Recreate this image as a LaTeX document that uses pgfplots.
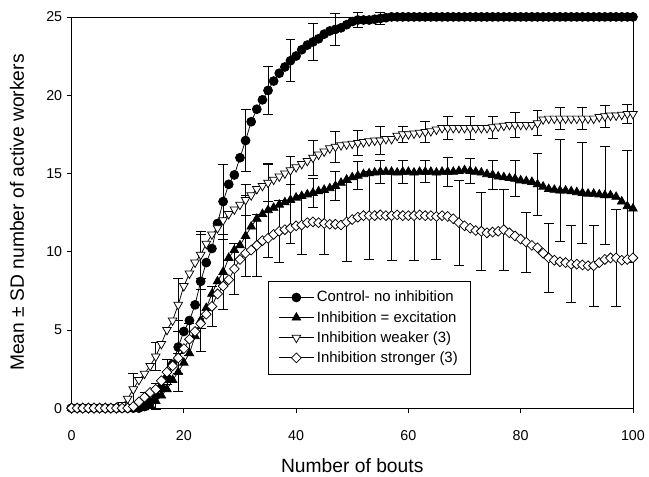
\documentclass[border=0pt]{standalone}
\usepackage{fontspec}
\setmainfont{Liberation Sans}
\usepackage{pgfplots}
\usepackage{pgfplotstable}
\pgfplotsset{compat=1.18}

% mean number of active workers per bout: c control, t inhibition=excitation,
% w inhibition weaker, d inhibition stronger
\pgfplotstableread{
x c t w d
0 0 0 0 0
1 0 0 0 0
2 0 0 0 0
3 0 0 0 0
4 0 0 0 0
5 0 0 0 0
6 0 0 0 0
7 0 0 0 0
8 0 0 0 0
9 0 0 0.2 0
10 0 0 0.6 0
11 0 0 1.2 0.1
12 0 0 1.8 0.4
13 0.1 0.05 2.2 0.7
14 0.4 0.2 2.7 1.0
15 0.8 0.45 3.3 1.2
16 1.3 0.8 4.1 1.75
17 1.9 1.2 5.0 2.3
18 2.8 1.8 5.6 2.7
19 3.9 2.3 6.6 3.2
20 4.9 2.9 7.8 3.8
21 5.6 3.5 8.6 4.4
22 6.6 4.6 9.3 4.9
23 8.1 5.6 9.8 5.4
24 9.3 6.4 10.5 6.0
25 10.2 7.3 11.1 6.5
26 11.8 8.1 11.5 7.3
27 13.2 8.7 12.0 7.8
28 14.3 9.6 12.4 8.2
29 14.9 10.1 12.7 8.9
30 16.0 10.4 13.0 9.5
31 17.1 11.0 13.3 9.9
32 18.3 11.6 13.6 10.1
33 19.1 12.1 14.0 10.4
34 19.7 12.4 14.2 10.7
35 20.3 12.65 14.4 10.85
36 20.9 12.8 14.6 11.1
37 21.4 13.0 14.8 11.3
38 21.8 13.15 15.0 11.4
39 22.2 13.3 15.2 11.5
40 22.5 13.45 15.4 11.65
41 22.9 13.55 15.6 11.7
42 23.2 13.65 15.8 11.85
43 23.4 13.75 16.0 11.9
44 23.6 13.85 16.2 11.85
45 23.9 13.95 16.4 11.8
46 24.1 14.05 16.6 11.75
47 24.2 14.2 16.7 11.75
48 24.3 14.4 16.8 11.7
49 24.5 14.6 16.85 11.9
50 24.7 14.75 16.9 12.05
51 24.8 14.85 16.95 12.2
52 24.8 14.95 17.0 12.3
53 24.8 15.0 17.05 12.3
54 24.85 15.05 17.1 12.3
55 24.9 15.1 17.1 12.35
56 24.95 15.1 17.2 12.3
57 25 15.1 17.2 12.3
58 25 15.05 17.4 12.35
59 25 15.1 17.5 12.3
60 25 15.1 17.5 12.3
61 25 15.05 17.55 12.3
62 25 15.1 17.6 12.35
63 25 15.1 17.65 12.3
64 25 15.1 17.7 12.3
65 25 15.05 17.8 12.25
66 25 15.1 17.9 12.3
67 25 15.1 17.9 12.25
68 25 15.1 17.9 12.1
69 25 15.15 17.9 11.85
70 25 15.2 17.9 11.65
71 25 15.15 17.9 11.5
72 25 15.1 17.9 11.35
73 25 15.05 17.9 11.3
74 25 14.95 17.9 11.2
75 25 14.9 17.95 11.25
76 25 14.8 18.0 11.3
77 25 14.75 18.05 11.4
78 25 14.7 18.1 11.2
79 25 14.65 18.1 11.0
80 25 14.55 18.1 10.8
81 25 14.5 18.1 10.6
82 25 14.45 18.1 10.4
83 25 14.3 18.2 10.25
84 25 14.15 18.45 9.9
85 25 14.0 18.5 9.6
86 25 13.95 18.5 9.45
87 25 13.9 18.5 9.35
88 25 13.9 18.5 9.3
89 25 13.85 18.5 9.2
90 25 13.8 18.5 9.2
91 25 13.75 18.5 9.15
92 25 13.7 18.5 9.1
93 25 13.7 18.5 9.1
94 25 13.65 18.6 9.3
95 25 13.6 18.65 9.5
96 25 13.6 18.7 9.6
97 25 13.5 18.7 9.6
98 25 13.2 18.75 9.45
99 25 12.9 18.8 9.5
100 25 12.75 18.8 9.6
}\bouts

% SD, drawn every 4th bout
\pgfplotstableread{
x y e
15 0.8 0.8
19 3.9 1.7
23 8.1 3.0
27 13.2 2.4
31 17.1 2.0
35 20.3 1.55
39 22.2 1.35
43 23.4 1.2
47 24.2 1.0
51 24.8 0.5
55 24.9 0.4
}\errC
\pgfplotstableread{
x y e
15 0.45 0.5
19 2.3 1.2
23 5.6 2.0
27 8.7 2.4
31 11.0 2.6
35 12.65 3.0
39 13.3 2.8
43 13.75 0.9
47 14.2 0.9
51 14.85 0.9
55 15.1 0.75
59 15.1 0.75
63 15.1 0.7
67 15.1 0.9
71 15.15 0.8
75 14.9 0.9
79 14.65 1.15
83 14.3 2.0
87 13.9 3.25
91 13.75 3.25
95 13.6 3.15
99 12.9 3.6
}\errT
\pgfplotstableread{
x y e
11 1.2 1.0
15 3.3 0.9
19 6.6 1.7
23 9.8 1.5
27 12.0 1.2
31 13.3 1.0
35 14.4 1.2
39 15.2 0.9
43 16.0 1.1
47 16.7 1.0
51 16.95 0.8
55 17.1 0.9
59 17.5 0.5
63 17.65 0.7
67 17.9 0.75
71 17.9 0.75
75 17.95 0.7
79 18.1 0.8
83 18.2 0.8
87 18.5 0.7
91 18.5 0.7
95 18.65 0.7
99 18.8 0.6
}\errW
\pgfplotstableread{
x y e
13 0.7 0.3
17 2.3 0.8
21 4.4 1.0
25 6.5 1.3
29 8.9 1.6
33 10.4 2.0
37 11.3 2.0
41 11.7 1.9
45 11.8 2.0
49 11.9 2.5
53 12.3 2.8
57 12.3 2.85
61 12.3 2.85
65 12.3 2.8
69 11.85 2.7
73 11.3 2.5
77 11.4 2.6
81 10.6 1.9
85 9.6 2.2
89 9.2 2.45
93 9.1 2.6
97 9.6 3.1
}\errD

\pgfplotsset{
  errbar/.style={forget plot, only marks, mark=none, black,
    error bars/.cd, y dir=both, y explicit,
    error bar style={line width=0.6pt},
    error mark options={rotate=90, black, mark size=4pt, line width=0.6pt}},
}

\begin{document}
\begin{tikzpicture}
\begin{axis}[
    scale only axis,
    width=452pt, height=315pt,
    xmin=0, xmax=100, ymin=0, ymax=25,
    xtick={0,20,...,100}, ytick={0,5,...,25},
    tick align=outside, xtick pos=bottom, ytick pos=left,
    major tick length=4pt,
    tick style={black, line width=0.6pt},
    axis line style={line width=0.6pt},
    /pgf/number format/assume math mode=true,
    ticklabel style={font=\fontsize{11.5}{13}\selectfont},
    xticklabel shift=10.5pt,
    xlabel={Number of bouts},
    ylabel={Mean ± SD number of active workers},
    label style={font=\fontsize{15.5}{18}\selectfont},
    xlabel shift=7.5pt,
    ylabel shift=11pt,
    clip=false,
    legend style={at={(0.35,0.086)}, anchor=south west, draw=black,
        line width=0.6pt, font=\fontsize{12}{14}\selectfont,
        row sep=2pt, inner xsep=8pt, inner ysep=6pt},
    legend cell align=left,
    legend image code/.code={\draw[mark repeat=2,mark phase=2]
        plot coordinates {(0cm,0cm) (0.5cm,0cm) (1.0cm,0cm)};},
    every axis plot/.append style={line width=0.6pt},
]
% page margins around the axis box
\path (rel axis cs:0,1) ++(-57.6pt,13.6pt);
\path (rel axis cs:1,0) ++(9.6pt,-54.4pt);

\addplot[errbar] table[x=x,y=y,y error=e] {\errC};
\addplot[errbar] table[x=x,y=y,y error=e] {\errT};
\addplot[errbar] table[x=x,y=y,y error=e] {\errW};
\addplot[errbar] table[x=x,y=y,y error=e] {\errD};

\addplot[black, mark=*, mark size=3.6pt] table[x=x,y=c] {\bouts};
\addlegendentry{Control- no inhibition}
\addplot[black, mark=triangle*, mark size=4pt] table[x=x,y=t] {\bouts};
\addlegendentry{Inhibition = excitation}
\addplot[black, mark=triangle*, mark size=4pt, mark options={rotate=180, fill=white}] table[x=x,y=w] {\bouts};
\addlegendentry{Inhibition weaker (3)}
\addplot[black, mark=square*, mark size=2.8pt, mark options={rotate=45, fill=white}] table[x=x,y=d] {\bouts};
\addlegendentry{Inhibition stronger (3)}
\end{axis}
\end{tikzpicture}
\end{document}
